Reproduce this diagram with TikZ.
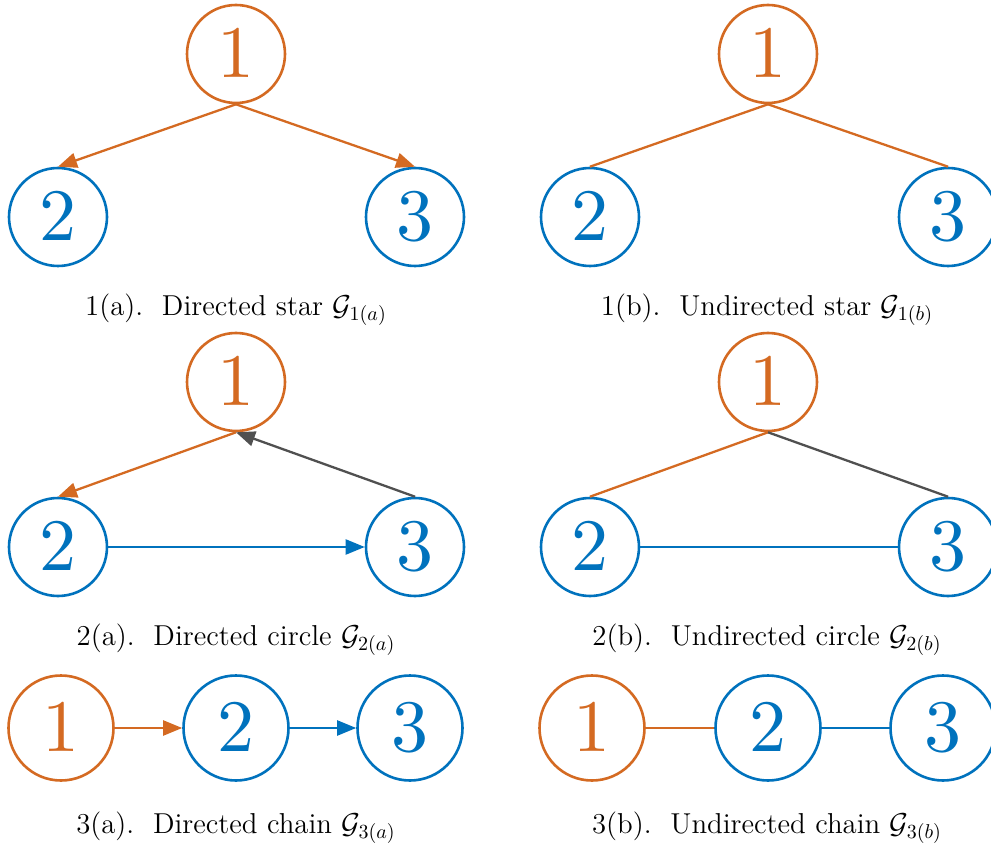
\documentclass[tikz,border=0pt]{standalone}
\usetikzlibrary{arrows.meta}
\definecolor{gorange}{RGB}{212,106,34}
\definecolor{gblue}{RGB}{0,114,189}
\definecolor{ggray}{RGB}{80,80,80}
% vertex labels: text-size design scaled up, for sturdier strokes
\font\vtxdigits=cmr10 at 37pt
\begin{document}
\begin{tikzpicture}[x=0.5pt,y=-0.5pt,
  vtx/.style={circle,draw,line width=1.3pt,minimum size=49pt,inner sep=0pt,
    font=\vtxdigits},
  bigvtx/.style={minimum size=52.5pt},
  lead/.style={vtx,draw=gorange,text=gorange},
  follow/.style={vtx,draw=gblue,text=gblue},
  link/.style={line width=1.15pt},
  arrowlink/.style={link,-{Triangle[length=9.5pt,width=7.5pt]}},
  captext/.style={anchor=base,font=\fontsize{14.4}{17}\selectfont}
]
\useasboundingbox (0,0) rectangle (991,850);

% 1(a) directed star
\node[lead]   (a1) at (236,54)  {1};
\node[follow] (a2) at (58,217)  {2};
\node[follow] (a3) at (415,217) {3};
\draw[arrowlink,gorange] (a1.south) -- (a2.north);
\draw[arrowlink,gorange] (a1.south) -- (a3.north);
\node[captext] (ca) at (236,315) {1(a).\ \ Directed star $\mathcal{G}_{1(a)}$};

% 1(b) undirected star
\node[lead]   (b1) at (768,54)  {1};
\node[follow] (b2) at (590,217) {2};
\node[follow] (b3) at (948,217) {3};
\draw[link,gorange] (b1.south) -- (b2.north);
\draw[link,gorange] (b1.south) -- (b3.north);
\node[captext] (cb) at (767,315) {1(b).\ \ Undirected star $\mathcal{G}_{1(b)}$};

% 2(a) directed circle
\node[lead]   (c1) at (236,382) {1};
\node[follow] (c2) at (58,547)  {2};
\node[follow] (c3) at (415,547) {3};
\draw[arrowlink,gorange] (c1.south) -- (c2.north);
\draw[arrowlink,ggray]   (c3.north) -- (c1.south);
\draw[arrowlink,gblue]   (c2.east) -- (c3.west);
\node[captext] (cc) at (236,645) {2(a).\ \ Directed circle $\mathcal{G}_{2(a)}$};

% 2(b) undirected circle
\node[lead]   (d1) at (768,382) {1};
\node[follow] (d2) at (590,547) {2};
\node[follow] (d3) at (948,547) {3};
\draw[link,gorange] (d1.south) -- (d2.north);
\draw[link,ggray]   (d1.south) -- (d3.north);
\draw[link,gblue]   (d2.east) -- (d3.west);
\node[captext] (cd) at (767,645) {2(b).\ \ Undirected circle $\mathcal{G}_{2(b)}$};

% 3(a) directed chain
\node[lead,bigvtx]   (e1) at (61,728)  {1};
\node[follow,bigvtx] (e2) at (236,728) {2};
\node[follow,bigvtx] (e3) at (410,728) {3};
\draw[arrowlink,gorange] (e1.east) -- (e2.west);
\draw[arrowlink,gblue]   (e2.east) -- (e3.west);
\node[captext] (ce) at (236,833) {3(a).\ \ Directed chain $\mathcal{G}_{3(a)}$};

% 3(b) undirected chain
\node[lead,bigvtx]   (f1) at (592,728) {1};
\node[follow,bigvtx] (f2) at (768,728) {2};
\node[follow,bigvtx] (f3) at (943,728) {3};
\draw[link,gorange] (f1.east) -- (f2.west);
\draw[link,gblue]   (f2.east) -- (f3.west);
\node[captext] (cf) at (767,833) {3(b).\ \ Undirected chain $\mathcal{G}_{3(b)}$};
\end{tikzpicture}
\end{document}
